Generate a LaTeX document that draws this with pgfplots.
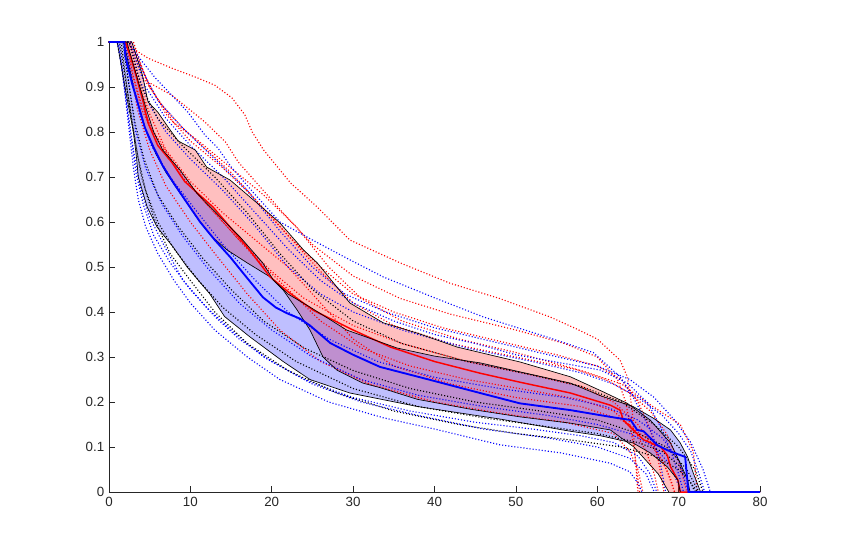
\documentclass[border=0pt]{standalone}
\usepackage{pgfplots}
\pgfplotsset{compat=1.18}
\usepgfplotslibrary{fillbetween}
\usepackage{fontspec}
\setmainfont{Liberation Sans}
\definecolor{axgray}{RGB}{38,38,38}
\begin{document}
\begin{tikzpicture}
\begin{axis}[
  scale only axis, width=488.25pt, height=337.5pt,
  xmin=0, xmax=80, ymin=0, ymax=1,
  axis x line*=bottom, axis y line*=left,
  axis line style={axgray, line width=0.5pt},
  tick align=inside, major tick length=4.5pt,
  tick style={axgray, line width=0.5pt},
  xtick={0,10,20,30,40,50,60,70,80},
  ytick={0,0.1,0.2,0.3,0.4,0.5,0.6,0.7,0.8,0.9,1},
  yticklabels={0,0.1,0.2,0.3,0.4,0.5,0.6,0.7,0.8,0.9,1},
  /pgf/number format/assume math mode=true,
  tick label style={font=\fontsize{10}{12}\selectfont, text=axgray},
  clip=false,
  dotline/.style={line width=0.85pt, dash pattern=on 0.8pt off 1.5pt},
]
% ---- red dotted individual curves
\addplot[red, dotline] coordinates {(0,1)(2.2,1)(2.8,0.987)(4.8,0.964)(7.7,0.942)(10.9,0.92)(13,0.904)(15.1,0.876)(16.7,0.838)(17.6,0.8)(19,0.76)(22.3,0.687)(25.6,0.633)(29.6,0.56)(35.8,0.509)(41.9,0.464)(48,0.43)(54.2,0.389)(57.5,0.362)(60,0.34)(62.8,0.293)(63.7,0.256)(64.3,0.182)(64.5,0.12)(64.9,0.02)(65,0)};
\addplot[red, dotline] coordinates {(0,1)(2.5,1)(4.8,0.911)(7.7,0.882)(9.7,0.853)(11.8,0.822)(14.3,0.778)(15.9,0.733)(17.6,0.698)(21.4,0.62)(25,0.55)(30,0.48)(35.8,0.43)(42,0.395)(50,0.36)(56,0.33)(60,0.3)(62.5,0.25)(63.5,0.2)(64.5,0.1)(65.2,0)};
\addplot[red, dotline] coordinates {(0,1)(2.4,1)(4.2,0.92)(6.5,0.86)(9,0.81)(12,0.76)(15,0.71)(18.5,0.64)(22,0.57)(26,0.5)(30,0.44)(35,0.4)(41,0.365)(48,0.335)(55,0.305)(60,0.28)(63,0.25)(65,0.2)(66.5,0.14)(67.5,0.07)(68.2,0)};
\addplot[red, dotline] coordinates {(0,1)(2.8,1)(5,0.9)(8,0.82)(11,0.78)(15,0.72)(19,0.66)(23,0.59)(27,0.5)(31,0.43)(36,0.38)(43,0.34)(50,0.31)(57,0.275)(61,0.25)(64,0.22)(66.5,0.18)(68.5,0.13)(70,0.07)(71,0)};
\addplot[red, dotline] coordinates {(0,1)(2.2,1)(3,0.92)(4,0.85)(6,0.78)(9,0.7)(12,0.64)(16,0.56)(20,0.49)(24,0.43)(30,0.37)(36,0.33)(44,0.29)(52,0.26)(58,0.235)(62,0.2)(65,0.15)(67,0.1)(68.5,0.05)(69.5,0)};
\addplot[red, dotline] coordinates {(0,1)(2,1)(2.7,0.93)(3.5,0.85)(5,0.76)(7,0.68)(10,0.6)(13,0.53)(17,0.44)(21,0.36)(26,0.29)(32,0.24)(40,0.2)(48,0.175)(56,0.155)(62,0.13)(64,0.09)(65,0.05)(65.6,0)};
\addplot[red, dotline] coordinates {(0,1)(2.5,1)(3.5,0.92)(5,0.84)(7,0.76)(10,0.69)(14,0.62)(18,0.56)(22,0.5)(26,0.42)(30,0.34)(35,0.28)(42,0.24)(50,0.21)(58,0.19)(63,0.16)(66,0.12)(68,0.07)(69,0.03)(69.5,0)};
\addplot[red, dotline] coordinates {(0,1)(2.1,1)(2.9,0.93)(4,0.86)(5.5,0.8)(8,0.73)(11,0.66)(14,0.6)(18,0.52)(22,0.45)(26,0.38)(31,0.32)(37,0.28)(44,0.25)(52,0.225)(58,0.205)(62,0.18)(64.5,0.14)(66,0.09)(67,0.04)(67.5,0)};
\addplot[red, dotline] coordinates {(0,1)(3,1)(4.5,0.92)(7,0.84)(10,0.78)(14,0.72)(18,0.65)(22,0.57)(26,0.49)(30,0.42)(35,0.37)(42,0.33)(50,0.3)(58,0.27)(63,0.24)(66,0.2)(68.5,0.17)(70.2,0.15)(71.8,0.09)(72.3,0)};
% ---- blue dotted individual curves
\addplot[blue, dotline] coordinates {(0,1)(2.3,1)(4.1,0.956)(5.7,0.92)(7.7,0.882)(9.7,0.844)(11.8,0.793)(13.4,0.764)(15.1,0.72)(18,0.66)(21,0.6)(25,0.56)(29.6,0.516)(33.7,0.478)(39.8,0.433)(46,0.389)(53.9,0.344)(59.5,0.31)(62.8,0.256)(64.4,0.211)(65.7,0.167)(66.9,0.122)(67.8,0.06)(68.4,0)};
\addplot[blue, dotline] coordinates {(0,1)(2.5,1)(4.5,0.9)(7,0.83)(10,0.77)(14,0.7)(18,0.62)(22,0.54)(26,0.47)(30,0.42)(35,0.38)(40,0.35)(45,0.33)(50,0.305)(55.5,0.287)(60.4,0.271)(63.7,0.242)(66.2,0.198)(67.8,0.144)(69,0.093)(70,0.04)(70.6,0)};
\addplot[blue, dotline] coordinates {(0,1)(1,1)(1.5,0.95)(2,0.88)(2.5,0.8)(3,0.72)(3.6,0.65)(4.5,0.59)(6,0.53)(8,0.47)(10,0.42)(13,0.36)(17,0.3)(21,0.25)(27,0.2)(33.7,0.165)(40,0.14)(48,0.105)(55.5,0.087)(61.6,0.064)(64,0.045)(65,0.02)(65.5,0)};
\addplot[blue, dotline] coordinates {(0,1)(1.1,1)(1.6,0.94)(2.1,0.87)(2.7,0.79)(3.3,0.71)(4.2,0.64)(5.5,0.57)(7.5,0.51)(10,0.45)(13,0.39)(16,0.34)(20,0.29)(25,0.24)(31,0.2)(38,0.17)(46,0.14)(54,0.12)(60,0.1)(64,0.075)(66,0.04)(67,0)};
\addplot[blue, dotline] coordinates {(0,1)(1.2,1)(1.7,0.93)(2.3,0.85)(3,0.76)(3.8,0.68)(5,0.61)(7,0.54)(9.1,0.47)(12,0.41)(15,0.36)(19,0.3)(24,0.25)(30,0.21)(37,0.18)(45,0.155)(52,0.14)(58,0.125)(62,0.11)(65,0.08)(66.5,0.04)(67.3,0)};
\addplot[blue, dotline] coordinates {(0,1)(2.5,1)(3.5,0.93)(5,0.86)(7,0.8)(10,0.74)(14,0.67)(18,0.59)(22,0.5)(26,0.44)(30,0.4)(36,0.36)(44,0.32)(52,0.29)(58,0.265)(62,0.24)(65,0.21)(68,0.17)(70,0.13)(71.5,0.09)(72.5,0.04)(73.2,0)};
\addplot[blue, dotline] coordinates {(0,1)(2.8,1)(4,0.94)(6,0.87)(9,0.81)(13,0.74)(17,0.67)(21,0.58)(25,0.5)(29,0.44)(34,0.4)(40,0.365)(47,0.335)(54,0.305)(60,0.28)(64,0.25)(67,0.21)(69.5,0.16)(71.5,0.11)(73,0.05)(73.9,0)};
\addplot[blue, dotline] coordinates {(0,1)(1.8,1)(2.5,0.9)(3.3,0.8)(4.5,0.72)(6.5,0.64)(9,0.57)(12,0.5)(16,0.42)(20,0.36)(25,0.3)(31,0.25)(38,0.215)(46,0.19)(54,0.17)(60,0.15)(64,0.13)(67,0.1)(69,0.06)(70.3,0)};
\addplot[blue, dotline] coordinates {(0,1)(2,1)(2.8,0.92)(3.8,0.84)(5.2,0.77)(7.5,0.7)(10.5,0.63)(14,0.55)(18,0.47)(22,0.4)(27,0.34)(33,0.29)(40,0.255)(48,0.23)(56,0.21)(61,0.19)(65,0.16)(68,0.12)(70,0.07)(71.2,0)};
% ---- black dotted individual curves
\addplot[black, dotline] coordinates {(0,1)(1.3,1)(2,0.92)(2.8,0.83)(3.5,0.75)(4.5,0.67)(6,0.6)(8,0.54)(11,0.47)(14,0.41)(18,0.35)(23,0.29)(30,0.23)(38,0.19)(46,0.165)(54,0.145)(60,0.13)(65,0.11)(68,0.09)(70,0.06)(71.5,0.02)(72,0)};
\addplot[black, dotline] coordinates {(0,1)(1.5,1)(2.2,0.9)(3,0.8)(4,0.7)(5.5,0.61)(7.5,0.53)(10,0.47)(13,0.4)(17,0.33)(22,0.27)(28,0.22)(35,0.18)(43,0.15)(50,0.13)(57,0.115)(63,0.1)(67,0.08)(70,0.05)(71.5,0.02)(72.3,0)};
\addplot[black, dotline] coordinates {(0,1)(2.5,1)(4,0.9)(6,0.83)(9,0.77)(13,0.7)(17,0.62)(21,0.53)(25,0.45)(30,0.38)(36,0.33)(44,0.29)(52,0.26)(58,0.235)(63,0.2)(67,0.15)(70,0.1)(72,0.05)(73,0)};
\addplot[black, dotline] coordinates {(0,1)(1.7,1)(2.4,0.91)(3.2,0.82)(4.3,0.74)(6,0.66)(8.5,0.59)(11.5,0.52)(15,0.45)(19,0.38)(24,0.32)(30,0.27)(37,0.23)(45,0.2)(53,0.18)(60,0.16)(65,0.13)(68.5,0.1)(71,0.05)(72.5,0)};
% ---- red band
\addplot[name path=ru, black, line width=0.5pt] coordinates {(0,1)(2.8,1)(4.1,0.927)(4.8,0.867)(6,0.844)(7.3,0.81)(8.5,0.78)(10.6,0.76)(12,0.722)(14.9,0.693)(18.2,0.642)(21,0.598)(23.9,0.538)(25.6,0.509)(29.6,0.42)(33.7,0.376)(37.9,0.353)(42.8,0.322)(50.5,0.289)(56.7,0.256)(60.8,0.222)(63.7,0.197)(66.5,0.16)(69,0.109)(70.2,0.064)(71.1,0.027)(71.4,0)};
\addplot[name path=rl, black, line width=0.5pt] coordinates {(0,1)(1.8,1)(2.3,0.96)(3,0.9)(3.8,0.85)(4.6,0.8)(5.8,0.75)(7,0.71)(8.7,0.665)(10.8,0.61)(12.5,0.57)(14.5,0.538)(17,0.509)(19.8,0.478)(21.4,0.449)(23.1,0.405)(24.7,0.36)(26.3,0.3)(28,0.271)(31.2,0.242)(33.3,0.232)(37.9,0.206)(44.4,0.184)(50.5,0.167)(56.7,0.153)(61.6,0.138)(64.5,0.1)(66,0.07)(67.5,0.04)(68.8,0)};
\addplot[red, fill opacity=0.25, draw=none] fill between[of=ru and rl];
\addplot[red, line width=1.1pt] coordinates {(0,1)(2,1)(2.6,0.97)(3.4,0.92)(4.2,0.867)(4.8,0.82)(6,0.77)(7.7,0.733)(9.3,0.69)(12.8,0.633)(17,0.544)(19.8,0.478)(22,0.445)(25.1,0.404)(30,0.36)(34.6,0.322)(40,0.29)(45.6,0.264)(50.5,0.244)(56.7,0.22)(61.6,0.193)(62.8,0.182)(63.2,0.16)(64.4,0.138)(65.7,0.116)(67.8,0.1)(68.6,0.082)(69,0.056)(69.9,0.027)(70.2,0)(80,0)};
% ---- blue band
\addplot[name path=bu, black, line width=0.5pt] coordinates {(0,1)(2.2,1)(3,0.95)(3.8,0.9)(4.6,0.85)(5.5,0.8)(6.6,0.76)(8.7,0.716)(10.8,0.664)(12.8,0.627)(16.1,0.567)(18.9,0.509)(20.2,0.471)(22,0.44)(24.7,0.411)(29.2,0.36)(35.4,0.32)(40,0.302)(45.6,0.287)(50.5,0.267)(56.7,0.242)(60.4,0.214)(64.4,0.19)(66.9,0.164)(69,0.138)(70.2,0.109)(71.1,0.078)(71.8,0.042)(72.7,0)};
\addplot[name path=bl, black, line width=0.5pt] coordinates {(0,1)(1,1)(1.1,0.99)(1.7,0.927)(2.3,0.867)(3,0.8)(3.4,0.74)(3.6,0.70)(4.7,0.633)(5.9,0.589)(7.9,0.544)(9.6,0.5)(12.4,0.44)(14.2,0.39)(17.3,0.345)(21.4,0.29)(24.7,0.25)(29.6,0.22)(37.9,0.19)(48.1,0.162)(56.7,0.135)(60.4,0.125)(64.4,0.109)(66.5,0.087)(68.6,0.056)(69.9,0.027)(70.2,0)};
\addplot[blue, fill opacity=0.25, draw=none] fill between[of=bu and bl];
\addplot[blue, line width=1.4pt] coordinates {(0,1)(1.9,1)(2,0.97)(2.8,0.91)(3.6,0.86)(4.4,0.81)(5.5,0.765)(6.6,0.725)(8,0.685)(9.5,0.645)(11.2,0.6)(13,0.56)(14.9,0.522)(17,0.475)(18.9,0.433)(20.5,0.41)(21.9,0.397)(23.5,0.385)(24.7,0.37)(27.2,0.331)(30,0.305)(33.3,0.278)(39.5,0.249)(45.6,0.22)(50.5,0.197)(56.7,0.182)(61.6,0.167)(64.1,0.16)(64.9,0.138)(65.7,0.135)(67.4,0.104)(68.6,0.093)(70.2,0.082)(70.8,0.078)(71.2,0)(80,0)};
\coordinate (bbl) at (rel axis cs:-0.1674,-0.1378);
\coordinate (btr) at (rel axis cs:1.1244,1.0933);
\end{axis}
\path (bbl) rectangle (btr);
\end{tikzpicture}
\end{document}
